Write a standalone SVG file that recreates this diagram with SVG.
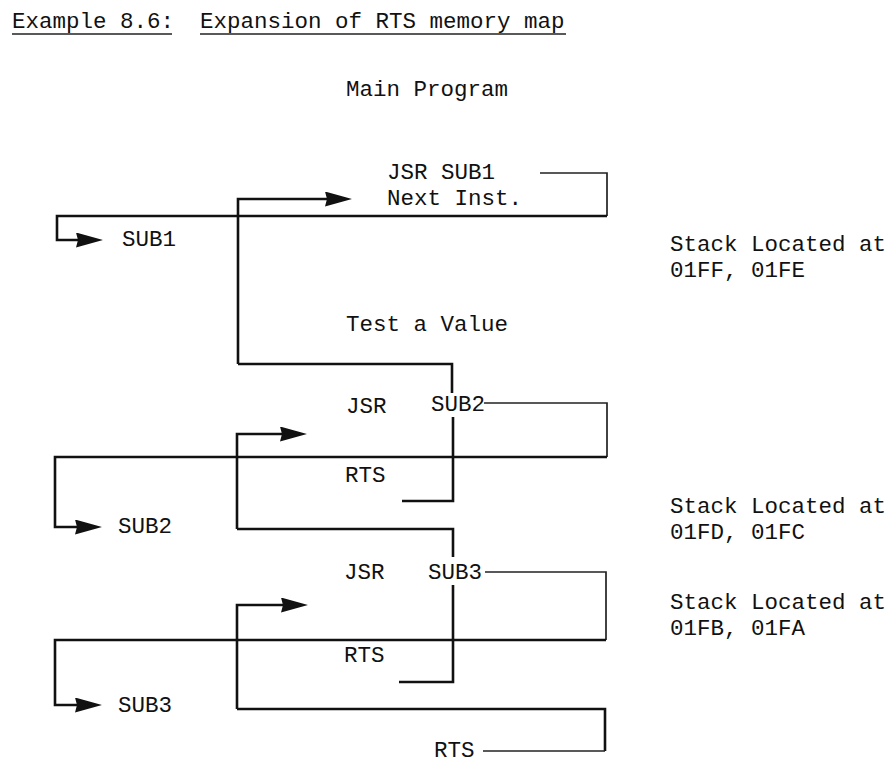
<svg xmlns="http://www.w3.org/2000/svg" width="894" height="765" viewBox="0 0 894 765">
<style>
text{font-family:"Liberation Mono","DejaVu Sans Mono",monospace;font-size:22.5px;fill:#111}
.thick{fill:none;stroke:#111;stroke-width:2.6;stroke-linejoin:miter}
.thin{fill:none;stroke:#222;stroke-width:1.7}
</style>
<defs>
<marker id="ah" viewBox="0 0 27 15" markerWidth="27" markerHeight="15" refX="15" refY="7.5" orient="auto" markerUnits="userSpaceOnUse">
<path d="M0,0 L27,7.5 L0,15 L2,7.5 Z" fill="#111"/>
</marker>
</defs>
<rect width="894" height="765" fill="#fff"/>

<g id="title">
<text x="12" y="28">Example 8.6:</text>
<text x="200" y="28">Expansion of RTS memory map</text>
<line x1="12" y1="34" x2="172" y2="34" class="thin" stroke-width="2"/>
<line x1="200" y1="34" x2="566" y2="34" class="thin" stroke-width="2"/>
</g>

<g id="main-program">
<text x="346" y="96">Main Program</text>
<text x="387" y="179">JSR SUB1</text>
<text x="387" y="205">Next Inst.</text>
<text x="346" y="331">Test a Value</text>
<text x="346" y="413">JSR</text>
<text x="431" y="411">SUB2</text>
<text x="345" y="482">RTS</text>
<text x="344" y="579">JSR</text>
<text x="428" y="579">SUB3</text>
<text x="344" y="662">RTS</text>
<text x="434" y="757">RTS</text>
</g>

<g id="subroutines">
<text x="122" y="246">SUB1</text>
<text x="118" y="533">SUB2</text>
<text x="118" y="712">SUB3</text>
</g>

<g id="stack-notes">
<text x="670" y="251">Stack Located at</text>
<text x="670" y="277">01FF, 01FE</text>
<text x="670" y="513">Stack Located at</text>
<text x="670" y="539">01FD, 01FC</text>
<text x="670" y="609">Stack Located at</text>
<text x="670" y="635">01FB, 01FA</text>
</g>

<g id="connectors">
<path class="thin" d="M540,173 H607 V216"/>
<path class="thick" d="M607,216 H57 V240 H91" marker-end="url(#ah)"/>
<path class="thick" d="M238,364 V199 H340" marker-end="url(#ah)"/>
<path class="thick" d="M238,364 H452 V393"/>
<path class="thick" d="M453,417 V501 H402"/>

<path class="thin" d="M484,403 H607 V457"/>
<path class="thick" d="M607,457 H55 V527 H90" marker-end="url(#ah)"/>
<path class="thick" d="M237,529 V434 H295" marker-end="url(#ah)"/>
<path class="thick" d="M237,529 H453 V557"/>
<path class="thick" d="M453,585 V682 H399"/>

<path class="thin" d="M485,572 H606 V640"/>
<path class="thick" d="M606,640 H55 V705 H90" marker-end="url(#ah)"/>
<path class="thick" d="M237,709 V605 H296" marker-end="url(#ah)"/>
<path class="thick" d="M237,709 H605 V751"/>
<path class="thin" d="M605,751 H483" stroke-width="2"/>
</g>
</svg>
